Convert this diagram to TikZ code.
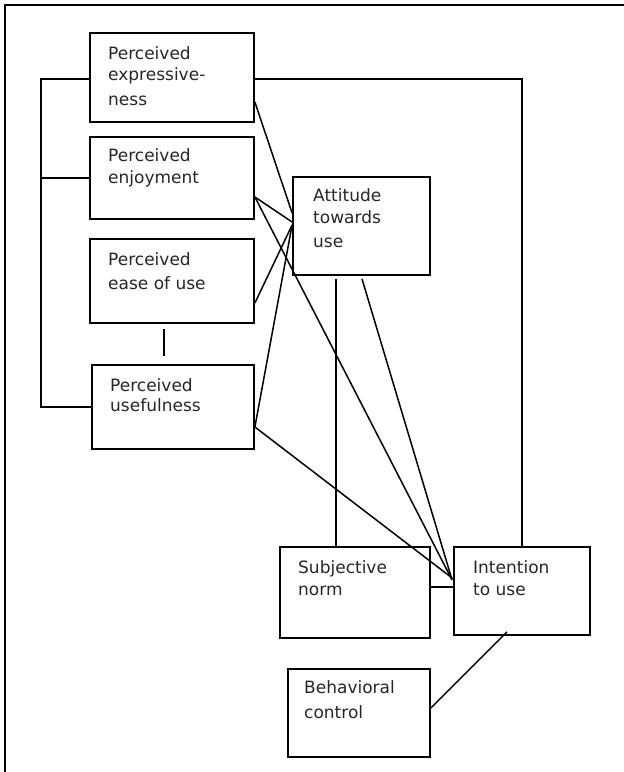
\documentclass[tikz,border=0pt]{standalone}
\usepackage{fontspec}
\setmainfont{DejaVu Sans}
\usetikzlibrary{calc}
\begin{document}
\begin{tikzpicture}[x=1pt,y=-1pt,
  box/.style={draw,line width=1.8pt,rectangle,inner sep=0pt},
  lbl/.style={anchor=base west,inner sep=0pt,font=\fontsize{17}{20}\selectfont,text=black!85},
  conn/.style={line width=1.5pt},
  frame/.style={line width=2pt}]
\useasboundingbox (0,0) rectangle (624,772);
% frame
\coordinate (ftl) at (5,5);
\draw[frame] (624,5) -- (ftl) -- (5,772);
% boxes
\node[box,minimum width=164pt,minimum height=89pt] (pe)  at (172,77.5) {};
\node[box,minimum width=164pt,minimum height=82pt] (enj) at (172,178) {};
\node[box,minimum width=164pt,minimum height=84pt] (eou) at (172,281) {};
\node[box,minimum width=162pt,minimum height=84pt] (use) at (173,407) {};
\node[box,minimum width=137pt,minimum height=98pt] (att) at (361.5,226) {};
\node[box,minimum width=150pt,minimum height=91pt] (sn)  at (355,592.5) {};
\node[box,minimum width=136pt,minimum height=88pt] (int) at (522,591) {};
\node[box,minimum width=142pt,minimum height=88pt] (bc)  at (359,713) {};
% labels
\node[lbl] (pe1) at (108,59) {Perceived};
\node[lbl] (pe2) at (108,80) {expressive-};
\node[lbl] (pe3) at (108,105) {ness};
\node[lbl] (en1) at (108,161) {Perceived};
\node[lbl] (en2) at (108,183) {enjoyment};
\node[lbl] (eo1) at (108,265) {Perceived};
\node[lbl] (eo2) at (108,289) {ease of use};
\node[lbl] (us1) at (110,391) {Perceived};
\node[lbl] (us2) at (110,411) {usefulness};
\node[lbl] (at1) at (313,201) {Attitude};
\node[lbl] (at2) at (313,223) {towards};
\node[lbl] (at3) at (313,247) {use};
\node[lbl] (sn1) at (298,573) {Subjective};
\node[lbl] (sn2) at (298,595) {norm};
\node[lbl] (in1) at (473,573) {Intention};
\node[lbl] (in2) at (473,595) {to use};
\node[lbl] (bc1) at (304,693) {Behavioral};
\node[lbl] (bc2) at (304,718) {control};
% left bracket
\draw[conn] ([yshift=-1.5pt]pe.west) -- ++(-48,0) coordinate (lb) |- (use.west);
\draw[conn] (enj.west) -- (enj.west -| lb);
% eou -- use
\draw[conn] ([xshift=-8pt,yshift=-5pt]eou.south) coordinate (eu) -- ([yshift=8pt]eu |- use.north);
% pe to intention
\draw[conn] ([yshift=-1.5pt]pe.east) -| (int.north);
% to attitude
\draw[conn] ([yshift=-24.5pt]pe.east) -- ([yshift=13pt]att.west);
\draw[conn] ([yshift=-19pt]enj.east) coordinate (ej) -- ([yshift=4pt]att.west);
\draw[conn] ([yshift=-22pt]eou.east) -- ([yshift=1pt]att.west);
\draw[conn] ([yshift=-20pt]use.east) coordinate (us) -- ([yshift=1pt]att.west);
% to intention
\coordinate (ic) at ([xshift=-1pt,yshift=11pt]int.west);
\draw[conn] (ej) -- (ic);
\draw[conn] (us) -- ([yshift=2pt]ic);
\draw[conn] ([xshift=0.5pt,yshift=-3pt]att.south) -- (ic);
\draw[conn] ([xshift=-25.5pt,yshift=-3pt]att.south) coordinate (av) -- (av |- sn.north);
% norm -- intention
\draw[conn] ([xshift=-2pt,yshift=5.5pt]sn.east) -- ([xshift=2pt,yshift=4pt]int.west);
% intention -- behavioral control
\draw[conn] ([xshift=-15pt,yshift=4pt]int.south) -- ([yshift=5pt]bc.east);
\end{tikzpicture}
\end{document}
